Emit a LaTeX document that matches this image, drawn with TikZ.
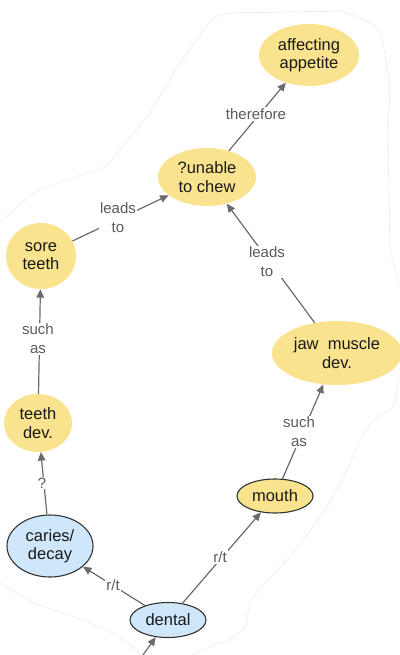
\documentclass[tikz,border=0pt]{standalone}
\usepackage{fontspec}
\setmainfont{Liberation Sans}
\usetikzlibrary{shapes.geometric,arrows.meta}
\definecolor{concepty}{HTML}{FAE38E}
\definecolor{conceptb}{HTML}{CFE7FB}
\definecolor{linkgray}{HTML}{6A6A6A}
\definecolor{labelgray}{HTML}{5A5A5A}
\definecolor{rimgray}{HTML}{333333}
\begin{document}
\begin{tikzpicture}[x=1pt,y=-1pt,
  concept/.style={ellipse, inner sep=0pt, align=center,
    font=\fontsize{16.5}{18.5}\selectfont, text=black!90},
  yel/.style={concept, fill=concepty},
  yelrim/.style={concept, fill=concepty, draw=rimgray, line width=1.1pt},
  blu/.style={concept, fill=conceptb, draw=rimgray, line width=1.1pt},
  link/.style={draw=linkgray, line width=1.2pt,
    -{Triangle[length=8.5pt,width=7.5pt]}},
  linklabel/.style={fill=white, inner sep=1pt, align=center,
    font=\fontsize{15}{19}\selectfont, text=labelgray},
  outline/.style={draw=gray!22, line width=0.4pt, rounded corners=6pt}
]
\useasboundingbox (0,0) rectangle (399,655);

% faint hand-drawn boundary
\draw[outline] (0,222) -- (33,193) -- (60,182) -- (90,172) -- (105,168)
  -- (120,150) -- (150,113) -- (177,67) -- (213,17) -- (227,13) -- (343,11)
  -- (377,26) -- (382,38) -- (390,83) -- (388,133) -- (390,250) -- (399,285);
\draw[outline] (399,380) -- (393,410) -- (383,413) -- (367,427) -- (357,447)
  -- (347,470) -- (327,507) -- (313,527) -- (290,557) -- (280,567)
  -- (250,600) -- (246,627) -- (230,640) -- (213,645) -- (193,655);
\draw[outline] (0,583) -- (33,603) -- (83,620) -- (113,633) -- (135,648) -- (140,655);

% concepts
\node[yel] (appetite) at (309,55) [minimum width=100pt, minimum height=62pt] {affecting\\appetite};
\node[yel] (chew) at (207,177) [minimum width=98pt, minimum height=58pt] {?unable\\to chew};
\node[yel] (sore) at (41,256) [minimum width=70pt, minimum height=66pt] {sore\\teeth};
\node[yel] (teeth) at (38,423) [minimum width=68pt, minimum height=58pt] {teeth\\dev.};
\node[yel] (jaw) at (337,353) [minimum width=130pt, minimum height=64pt] {jaw\ \ muscle\\dev.};
\node[yelrim] (mouth) at (275,496) [minimum width=76pt, minimum height=34pt] {mouth};
\node[blu] (caries) at (50,546) [minimum width=86pt, minimum height=62pt] {caries/\\decay};
\node[blu] (dental) at (168,620) [minimum width=76pt, minimum height=35pt] {dental};
\coordinate (below) at (138,662);

% links
\draw[link] (below) -- (dental);
\draw[link] (dental) -- (caries);
\draw[link] (dental) -- (mouth);
\draw[link] (caries) -- (teeth);
\draw[link] (teeth) -- (sore);
\draw[link] (sore) -- (chew);
\draw[link] (jaw) -- (chew);
\draw[link] (mouth) -- (jaw);
\draw[link] (chew) -- (appetite);

% link labels
\node[linklabel] (l1) at (113,585) {r/t};
\node[linklabel] (l2) at (220,557) {r/t};
\node[linklabel] (l3) at (42,483) {?};
\node[linklabel] (l4) at (38,339) {such\\as};
\node[linklabel] (l5) at (118,218) {leads\\to};
\node[linklabel] (l6) at (267,262) {leads\\to};
\node[linklabel] (l7) at (299,432) {such\\as};
\node[linklabel] (l8) at (256,114) {therefore};
\end{tikzpicture}
\end{document}
